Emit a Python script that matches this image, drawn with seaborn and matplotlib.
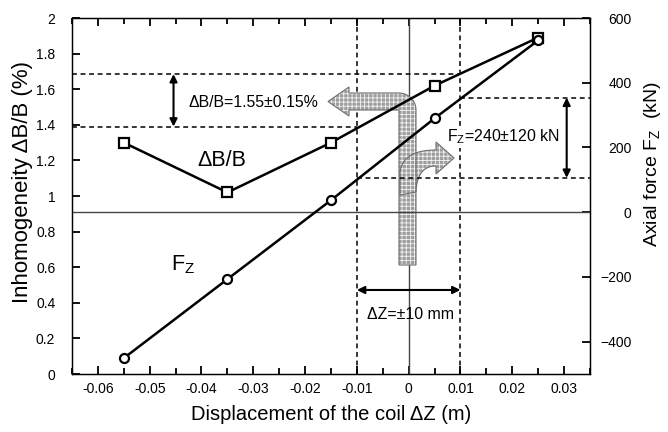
import numpy as np
import matplotlib
matplotlib.use("Agg")
import matplotlib.pyplot as plt
import seaborn as sns
from matplotlib.patches import Polygon
from matplotlib.transforms import IdentityTransform
from matplotlib.ticker import FixedLocator, FixedFormatter, MultipleLocator

# ---------------- data ----------------
displacement = [-0.055, -0.035, -0.015, 0.005, 0.025]          # m
inhomogeneity = [1.30, 1.02, 1.30, 1.62, 1.89]                  # %
axial_force = [-451, -207, 37, 290, 531]                        # kN

x_ticks = [-0.06, -0.05, -0.04, -0.03, -0.02, -0.01, 0.0, 0.01, 0.02, 0.03]
x_tick_labels = ["-0.06", "-0.05", "-0.04", "-0.03", "-0.02", "-0.01", "0", "0.01", "0.02", "0.03"]
x_minor_ticks = [-0.065, -0.055, -0.045, -0.035, -0.025, -0.015, -0.005, 0.005, 0.015, 0.025, 0.035]
left_ticks = [0, 0.2, 0.4, 0.6, 0.8, 1.0, 1.2, 1.4, 1.6, 1.8, 2.0]
left_tick_labels = ["0", "0.2", "0.4", "0.6", "0.8", "1", "1.2", "1.4", "1.6", "1.8", "2"]
right_ticks = [-400, -200, 0, 200, 400, 600]
right_tick_labels = ["\u2212400", "\u2212200", "0", "200", "400", "600"]

db_band = [1.39, 1.685]     # ΔB/B window (%)
fz_band = [106, 354]        # Fz window (kN)
dz_band = [-0.01, 0.01]     # ΔZ window (m)

# ---------------- style ----------------
sns.set_style("ticks")
plt.rcParams["font.family"] = ["Liberation Sans", "DejaVu Sans"]
plt.rcParams["mathtext.fontset"] = "custom"
plt.rcParams["mathtext.rm"] = "Liberation Sans"
plt.rcParams["mathtext.it"] = "Liberation Sans:italic"
plt.rcParams["hatch.linewidth"] = 0.6
for k in ("text.color", "axes.labelcolor", "xtick.color", "ytick.color", "axes.edgecolor"):
    plt.rcParams[k] = "black"

W, H = 668, 432
fig = plt.figure(figsize=(W / 100, H / 100), dpi=100)
L, R, T, B = 72, 590, 18, 374
ax = fig.add_axes([L / W, (H - B) / H, (R - L) / W, (B - T) / H])
ax2 = ax.twinx()

ax.set_xlim(-0.065, 0.035)
ax.set_ylim(0, 2)
ax2.set_ylim(-500, 600)

# zero lines
ax.axvline(0, color="#444444", lw=1.0, zorder=1)
ax2.axhline(0, color="#444444", lw=1.0, zorder=1)

# dashed guide lines
dash = dict(color="black", lw=1.1, linestyle=(0, (3.2, 2.4)))
ax.axvline(dz_band[0], **dash, zorder=2)
ax.axvline(dz_band[1], **dash, zorder=2)
ax.hlines(db_band[1], -0.065, dz_band[1], **dash, zorder=2)
ax.hlines(db_band[0], -0.065, dz_band[0], **dash, zorder=2)
ax2.hlines(fz_band[1], dz_band[1], 0.035, **dash, zorder=2)
ax2.hlines(fz_band[0], dz_band[0], 0.035, **dash, zorder=2)

# ---------------- big hatched arrows (pixel geometry) ----------------
def P(pts):
    return [(x, H - y) for x, y in pts]

th = np.linspace(np.pi / 2, 0, 12)
arc = [(399 + 17 * np.cos(t), 110 - 17 * np.sin(t)) for t in th]
big = [(399, 265), (399, 110), (349, 110), (349, 116), (328, 101.5), (349, 87), (349, 93)] + arc + [(416, 265)]

def quad(p0, c, p2, n=14):
    t = np.linspace(0, 1, n)[:, None]
    p0, c, p2 = map(np.array, (p0, c, p2))
    return [tuple(v) for v in (1 - t) ** 2 * p0 + 2 * (1 - t) * t * c + t ** 2 * p2]

small = ([(400, 195)] + quad((400, 172), (403, 150), (436, 150)) +
         [(436, 142), (454, 158), (436, 174)] + quad((436, 166), (417, 166), (416, 192)))

for shape in (big, small):
    ax.add_patch(Polygon(P(shape), closed=True, transform=IdentityTransform(),
                         facecolor="#9e9e9e", edgecolor="#f2f2f2", hatch="++++", lw=0, zorder=3))
    ax.add_patch(Polygon(P(shape), closed=True, transform=IdentityTransform(),
                         facecolor="none", edgecolor="#6e6e6e", lw=0.8, zorder=3.1))

# ---------------- data lines ----------------
sns.lineplot(x=displacement, y=inhomogeneity, ax=ax, color="black", lw=1.8,
             marker="s", markersize=6.5, markerfacecolor="white",
             markeredgecolor="black", markeredgewidth=1.6, zorder=5)
sns.lineplot(x=displacement, y=axial_force, ax=ax2, color="black", lw=1.8,
             marker="o", markersize=6.5, markerfacecolor="white",
             markeredgecolor="black", markeredgewidth=1.6, zorder=5)

# ---------------- double arrows ----------------
ap = dict(arrowstyle="<|-|>", color="black", lw=1.5, shrinkA=0, shrinkB=0, mutation_scale=11)
ax.annotate("", xy=(-0.0454, db_band[1]), xytext=(-0.0454, db_band[0]), arrowprops=ap, zorder=6)
ax2.annotate("", xy=(0.0305, fz_band[1]), xytext=(0.0305, fz_band[0]), arrowprops=ap, zorder=6)
ax.annotate("", xy=(dz_band[0], 0.472), xytext=(dz_band[1], 0.472), arrowprops=ap, zorder=6)

# ---------------- texts ----------------
ax.text(-0.0425, 1.524, "\u0394B/B=1.55\u00b10.15%", fontsize=11.4, va="center", ha="left", zorder=7)
ax.text(0.0073, 1.331, "F$_{\\rm Z}$=240\u00b1120 kN", fontsize=11.4, va="center", ha="left", zorder=7,
        bbox=dict(boxstyle="square,pad=0.1", facecolor="white", edgecolor="none"))
ax.text(-0.0081, 0.337, "\u0394Z=\u00b110 mm", fontsize=11.4, va="center", ha="left", zorder=7)
ax.text(-0.0407, 1.202, "\u0394B/B", fontsize=15.5, va="center", ha="left", zorder=7)
ax.text(-0.0459, 0.612, "F$_{\\rm Z}$", fontsize=15.5, va="center", ha="left", zorder=7)

# ---------------- axes formatting ----------------
ax.xaxis.set_major_locator(FixedLocator(x_ticks))
ax.xaxis.set_major_formatter(FixedFormatter(x_tick_labels))
ax.xaxis.set_minor_locator(FixedLocator(x_minor_ticks))
ax.yaxis.set_major_locator(FixedLocator(left_ticks))
ax.yaxis.set_major_formatter(FixedFormatter(left_tick_labels))
ax2.yaxis.set_major_locator(FixedLocator(right_ticks))
ax2.yaxis.set_major_formatter(FixedFormatter(right_tick_labels))

ax.tick_params(axis="x", which="major", direction="in", top=True, bottom=True,
               length=6, width=1.3, color="black", labelsize=10, pad=6)
ax.tick_params(axis="x", which="minor", direction="in", top=True, bottom=True,
               length=4, width=1.3, color="black")
ax.tick_params(axis="y", which="major", direction="in", left=True, right=False,
               length=6, width=1.3, color="black", labelsize=10, pad=12)
ax2.tick_params(axis="y", which="major", direction="in", right=True,
                length=6, width=1.3, color="black", labelsize=10, pad=30)
for lab in ax2.get_yticklabels():
    lab.set_horizontalalignment("right")

for a in (ax, ax2):
    for s in a.spines.values():
        s.set_visible(True)
        s.set_color("black")
        s.set_linewidth(0.9)

ax.set_xlabel("Displacement of the coil \u0394Z (m)", fontsize=14.5, labelpad=6)
ax.set_ylabel("Inhomogeneity \u0394B/B (%)", fontsize=16)
ax.yaxis.set_label_coords(-0.076, 0.54)
ax2.set_ylabel("Axial force F$_{\\rm Z}$  (kN)", fontsize=14)
ax2.yaxis.set_label_coords(1.10, 0.59)

fig.savefig("out.png", dpi=100)
